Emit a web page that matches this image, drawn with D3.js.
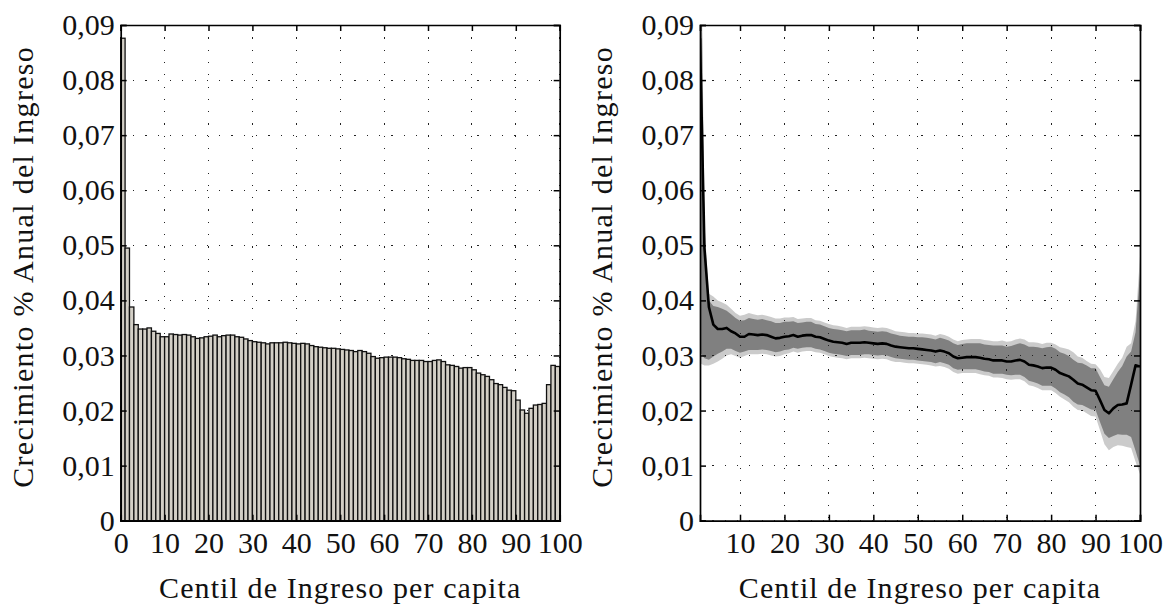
<!DOCTYPE html>
<html lang="es">
<head>
<meta charset="utf-8">
<title>Crecimiento por centil</title>
<script src="https://d3js.org/d3.v7.min.js"></script>
<style>
  body { margin: 0; background: #fff; }
  text { font-family: "Liberation Serif", "DejaVu Serif", serif; fill: #111; }
</style>
</head>
<body>
<script>
  var width = 1167;
  var height = 610;

  // centiles 1..100
  var centiles = d3.range(1, 101);

  // mean annual growth per centile (bars on the left, black line on the right)
  var growth = [
    0.0876, 0.0495, 0.0388, 0.0356, 0.0348, 0.0348, 0.0350, 0.0344, 0.0340, 0.0334,
    0.0334, 0.0339, 0.0338, 0.0337, 0.0338, 0.0337, 0.0334, 0.0331, 0.0332, 0.0334,
    0.0335, 0.0337, 0.0334, 0.0336, 0.0337, 0.0337, 0.0334, 0.0333, 0.0330, 0.0327,
    0.0325, 0.0324, 0.0323, 0.0321, 0.0323, 0.0323, 0.0323, 0.0324, 0.0323, 0.0322,
    0.0321, 0.0322, 0.0321, 0.0318, 0.0316, 0.0315, 0.0314, 0.0313, 0.0313, 0.0312,
    0.0311, 0.0310, 0.0309, 0.0307, 0.0309, 0.0307, 0.0304, 0.0298, 0.0295, 0.0296,
    0.0297, 0.0297, 0.0297, 0.0296, 0.0294, 0.0293, 0.0291, 0.0291, 0.0291, 0.0289,
    0.0289, 0.0291, 0.0292, 0.0289, 0.0283, 0.0282, 0.0280, 0.0277, 0.0278, 0.0278,
    0.0274, 0.0268, 0.0265, 0.0262, 0.0256, 0.0249, 0.0247, 0.0242, 0.0237, 0.0236,
    0.0219, 0.0201, 0.0195, 0.0204, 0.0210, 0.0211, 0.0213, 0.0247, 0.0282, 0.0280
  ];

  // band offsets from the mean, in thousandths (dark = inner, light = outer)
  var innerUp = [
    32, 2.5, 1.2, 3.4, 4.0, 3.7, 3.1, 3.1, 2.8, 2.9,
    3.0, 2.9, 2.8, 2.8, 2.8, 2.7, 2.8, 2.8, 2.7, 2.7,
    2.6, 2.5, 2.5, 2.4, 2.4, 2.4, 2.3, 2.3, 2.3, 2.3,
    2.3, 2.3, 2.3, 2.3, 2.3, 2.3, 2.3, 2.3, 2.2, 2.2,
    2.2, 2.2, 2.2, 2.2, 2.2, 2.1, 2.1, 2.1, 2.1, 2.1,
    2.2, 2.2, 2.2, 2.2, 2.3, 2.3, 2.3, 2.4, 2.4, 2.5,
    2.5, 2.5, 2.5, 2.6, 2.6, 2.6, 2.7, 2.7, 2.7, 2.7,
    2.8, 2.9, 3.0, 3.1, 3.3, 3.4, 3.5, 3.6, 3.7, 3.8,
    3.8, 3.8, 3.8, 3.7, 3.6, 3.8, 3.9, 4.0, 4.0, 4.1,
    4.2, 4.5, 4.8, 5.3, 6.0, 7.0, 8.5, 6.0, 6.0, 17
  ];
  var innerDn = [
    57, 20, 9.6, 5.8, 4.5, 4.1, 3.8, 3.2, 3.2, 2.9,
    2.7, 2.9, 2.8, 2.7, 2.7, 2.7, 2.6, 2.5, 2.5, 2.4,
    2.4, 2.3, 2.2, 2.2, 2.2, 2.2, 2.2, 2.2, 2.2, 2.2,
    2.2, 2.2, 2.2, 2.2, 2.2, 2.2, 2.2, 2.2, 2.1, 2.1,
    2.1, 2.1, 2.1, 2.1, 2.1, 2.1, 2.1, 2.1, 2.1, 2.1,
    2.1, 2.1, 2.1, 2.1, 2.1, 2.1, 2.1, 2.1, 2.1, 2.1,
    2.2, 2.2, 2.2, 2.3, 2.3, 2.3, 2.4, 2.4, 2.4, 2.4,
    2.5, 2.6, 2.7, 2.8, 2.9, 3.0, 3.1, 3.2, 3.3, 3.3,
    3.4, 3.5, 3.6, 3.8, 4.0, 3.8, 3.7, 3.6, 3.5, 3.5,
    4.0, 4.3, 4.5, 5.0, 5.3, 5.5, 5.7, 9.5, 15.5, 18
  ];
  var outerUp = [
    42, 4.5, 2.4, 5.1, 5.2, 4.8, 4.2, 4.1, 3.7, 3.8,
    4.0, 3.8, 3.7, 3.6, 3.6, 3.5, 3.6, 3.6, 3.5, 3.5,
    3.4, 3.3, 3.2, 3.1, 3.1, 3.1, 3.0, 3.0, 3.0, 3.0,
    3.0, 3.0, 2.9, 2.9, 2.9, 2.9, 2.9, 2.9, 2.9, 2.9,
    2.9, 2.9, 2.9, 2.9, 2.8, 2.8, 2.8, 2.8, 2.8, 2.8,
    2.9, 2.9, 2.9, 2.9, 3.0, 3.0, 3.0, 3.1, 3.1, 3.2,
    3.2, 3.3, 3.3, 3.4, 3.4, 3.4, 3.5, 3.5, 3.6, 3.6,
    3.7, 3.8, 3.9, 4.0, 4.1, 4.2, 4.3, 4.4, 4.5, 4.5,
    4.6, 4.7, 4.8, 4.9, 5.0, 4.9, 4.9, 4.8, 4.8, 4.8,
    5.6, 6.0, 6.4, 6.8, 7.5, 8.5, 10.3, 7.5, 8.0, 20
  ];
  var outerDn = [
    59, 21.3, 10.6, 7.1, 5.9, 5.4, 5.0, 4.2, 4.1, 3.8,
    3.5, 3.7, 3.6, 3.5, 3.5, 3.5, 3.4, 3.3, 3.3, 3.2,
    3.1, 3.0, 2.9, 2.9, 2.9, 2.9, 2.8, 2.8, 2.8, 2.8,
    2.8, 2.8, 2.8, 2.8, 2.8, 2.8, 2.8, 2.8, 2.8, 2.8,
    2.8, 2.8, 2.8, 2.8, 2.8, 2.7, 2.7, 2.7, 2.7, 2.7,
    2.7, 2.7, 2.7, 2.7, 2.8, 2.8, 2.8, 2.8, 2.8, 2.8,
    2.9, 2.9, 2.9, 3.0, 3.0, 3.0, 3.1, 3.1, 3.2, 3.2,
    3.3, 3.4, 3.5, 3.6, 3.7, 3.8, 3.9, 4.0, 4.1, 4.1,
    4.2, 4.3, 4.5, 4.7, 4.9, 4.8, 4.7, 4.7, 4.7, 4.7,
    5.5, 6.2, 6.7, 7.0, 7.3, 7.5, 7.9, 11.5, 17.5, 19.5
  ];

  var xTicksLeft = [0, 10, 20, 30, 40, 50, 60, 70, 80, 90, 100];
  var xTicksRight = [10, 20, 30, 40, 50, 60, 70, 80, 90, 100];
  var yTicks = [0, 0.01, 0.02, 0.03, 0.04, 0.05, 0.06, 0.07, 0.08, 0.09];

  var yLabel = "Crecimiento % Anual del Ingreso";
  var xLabel = "Centil de Ingreso per capita";

  // plot box (shared by both panels); note: "top" is reserved on window
  var plotTop = 25, plotBottom = 520.7;

  var svg = d3.select("body")
    .append("svg")
    .attr("width", width)
    .attr("height", height);

  var y = d3.scaleLinear().domain([0, 0.09]).range([plotBottom, plotTop]);
  var xL = d3.scaleLinear().domain([0, 100]).range([120.7, 559.7]);
  var xR = d3.scaleLinear().domain([1, 100]).range([700, 1140]);

  var fmt = function(d) { return d === 0 ? "0" : d.toFixed(2).replace(".", ","); };

  function grid(g, x, xt) {
    g.selectAll("line.gx").data(xt).enter().append("line")
      .attr("x1", x).attr("x2", x)
      .attr("y1", plotTop).attr("y2", plotBottom);
    g.selectAll("line.gy").data(yTicks).enter().append("line")
      .attr("y1", y).attr("y2", y)
      .attr("x1", x.range()[0]).attr("x2", x.range()[1]);
    g.selectAll("line")
      .attr("stroke", "#222")
      .attr("stroke-width", 1)
      .attr("stroke-dasharray", "1.2,11.1")
      .attr("shape-rendering", "crispEdges");
  }

  function frame(x, xt, tickFmt) {
    var r = x.range();
    var g = svg.append("g").attr("class", "axes");
    g.append("g").attr("transform", "translate(0," + plotBottom + ")")
      .call(d3.axisBottom(x).tickValues(xt).tickSize(-6).tickPadding(11).tickFormat(tickFmt));
    g.append("g").attr("transform", "translate(0," + plotTop + ")")
      .call(d3.axisTop(x).tickValues(xt).tickSize(-6).tickFormat(""));
    g.append("g").attr("transform", "translate(" + r[0] + ",0)")
      .call(d3.axisLeft(y).tickValues(yTicks).tickSize(-6).tickPadding(6).tickFormat(fmt));
    g.append("g").attr("transform", "translate(" + r[1] + ",0)")
      .call(d3.axisRight(y).tickValues(yTicks).tickSize(-6).tickFormat(""));
    g.selectAll(".domain").attr("stroke", "#000").attr("stroke-width", 1.7);
    g.selectAll(".tick line").attr("stroke", "#000").attr("stroke-width", 1.5);
    g.selectAll(".tick text")
      .attr("font-family", "Liberation Serif, DejaVu Serif, serif")
      .attr("font-size", 30)
      .attr("fill", "#111");
    return g;
  }

  function labels(cx, yx) {
    svg.append("text")
      .attr("x", cx).attr("y", 598)
      .attr("text-anchor", "middle")
      .attr("font-size", 30)
      .attr("letter-spacing", 1.1)
      .text(xLabel);
    svg.append("text")
      .attr("transform", "translate(" + yx + "," + ((plotTop + plotBottom) / 2 - 6) + ") rotate(-90)")
      .attr("text-anchor", "middle")
      .attr("font-size", 30)
      .attr("letter-spacing", 1.3)
      .text(yLabel);
  }

  // ---- left panel: bars
  var left = svg.append("g");
  grid(left.append("g"), xL, xTicksLeft);
  left.selectAll("rect.bar")
    .data(centiles)
    .enter()
    .append("rect")
    .attr("class", "bar")
    .attr("x", function(c) { return xL(c - 1); })
    .attr("width", function(c) { return xL(c) - xL(c - 1); })
    .attr("y", function(c) { return y(growth[c - 1]); })
    .attr("height", function(c) { return plotBottom - y(growth[c - 1]); })
    .attr("fill", "#d3cfc6")
    .attr("stroke", "#111")
    .attr("stroke-width", 1.3);
  frame(xL, xTicksLeft, d3.format("d"));
  labels((xL.range()[0] + xL.range()[1]) / 2, 33);

  // ---- right panel: bands + mean line
  svg.append("clipPath").attr("id", "clipR")
    .append("rect")
    .attr("x", 700).attr("y", plotTop)
    .attr("width", 440).attr("height", plotBottom - plotTop);

  var right = svg.append("g").attr("clip-path", "url(#clipR)");

  var outer = d3.area()
    .x(function(c) { return xR(c); })
    .y0(function(c, i) { return y(growth[i] - outerDn[i] / 1000); })
    .y1(function(c, i) { return y(growth[i] + outerUp[i] / 1000); });
  var inner = d3.area()
    .x(function(c) { return xR(c); })
    .y0(function(c, i) { return y(growth[i] - innerDn[i] / 1000); })
    .y1(function(c, i) { return y(growth[i] + innerUp[i] / 1000); });
  var mean = d3.line()
    .x(function(c) { return xR(c); })
    .y(function(c, i) { return y(growth[i]); });

  right.append("path").datum(centiles).attr("d", outer).attr("fill", "#cbcbcb");
  right.append("path").datum(centiles).attr("d", inner).attr("fill", "#808080");
  grid(right.append("g"), xR, xTicksRight);
  right.append("path").datum(centiles)
    .attr("d", mean)
    .attr("fill", "none")
    .attr("stroke", "#000")
    .attr("stroke-width", 2.6)
    .attr("stroke-linejoin", "round");

  frame(xR, xTicksRight, d3.format("d"));
  labels((xR.range()[0] + xR.range()[1]) / 2, 612);
</script>
</body>
</html>
